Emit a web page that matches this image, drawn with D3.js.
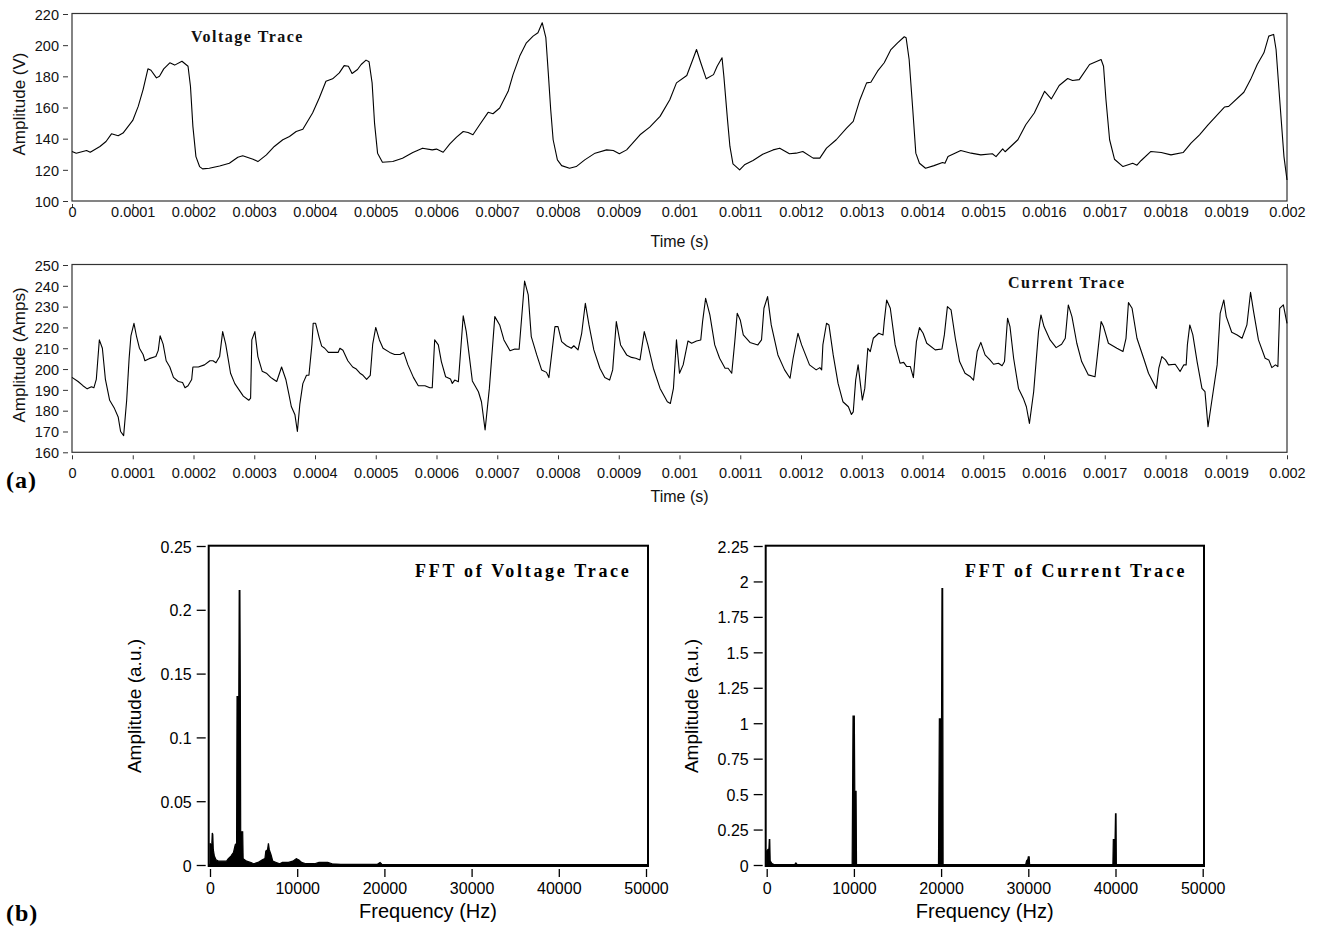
<!DOCTYPE html>
<html><head><meta charset="utf-8">
<script src="https://cdn.jsdelivr.net/npm/d3@7"></script>
<style>body{margin:0;background:#fff} svg{display:block}</style>
</head><body>
<svg id="c" width="1318" height="937"></svg>
<script>
// ---- data ----
// voltage trace: [time (µs), amplitude (V)]
const voltageTrace = [[0,131.8],[7,130.7],[24,132.4],[30,131.3],[46,135],[56,138.2],[65,143.1],[76,141.9],[84,143.6],[100,151.7],[109,160.7],[117,171.5],[125,184.8],[130,183.9],[139,179],[144,180.1],[151,184.8],[161,188.7],[169,187.2],[181,189.7],[191,186.5],[195,173.6],[199,147.9],[204,128.5],[210,122.1],[215,120.6],[226,121],[243,122.5],[259,124.2],[273,128.1],[281,129],[298,126.8],[306,125.3],[320,129.6],[333,135],[347,139.3],[358,141.4],[369,144.6],[380,146.1],[396,156.5],[407,166.1],[418,176.8],[429,178.4],[440,182.2],[448,186.9],[455,186.5],[461,181.8],[470,184.4],[476,187.6],[484,190.4],[489,189.3],[494,175.8],[498,150],[503,130.7],[511,124.9],[528,125.3],[544,127.5],[561,131.1],[577,133.9],[593,132.8],
[600,133.3],[611,131.3],[622,136.7],[633,141],[644,144.6],[652,144],[660,142.5],[671,148.9],[685,156.9],[693,156],[704,159.7],[718,170.4],[726,181.1],[737,193],[748,201.5],[759,205.8],[767,208],[774,214.4],[780,204.8],[784,182.2],[788,158.6],[792,139.3],[799,126.4],[806,122.7],[819,121],[830,122.1],[844,126.4],[861,130.7],[880,132.8],[891,132.4],[901,130.3],[913,132.8],[935,142.5],[951,147.4],[968,154.3],[984,165],[995,175.8],[1012,180.5],[1023,191.9],[1028,197.2],[1035,188.7],[1044,178.4],[1056,181.1],[1062,186.5],[1070,191.9],[1073,180.1],[1079,152.2],[1083,135],[1088,123.8],[1099,120],[1107,123.2],[1121,126],[1137,130],[1154,132.8],[1165,133.9],[1181,130.3],[1192,130.7],[1203,131.8],[1220,127.5],[1231,127.5],[1242,133.9],[1258,139.3],[1275,146.8],[1286,151.1],[1297,165],[1308,175.8],
[1315,176.2],[1326,183.3],[1337,188.7],[1348,197.2],[1359,201.5],[1370,205.4],[1373,204.8],[1378,190.8],[1384,158.6],[1389,130.7],[1395,124.2],[1405,121],[1419,122.7],[1433,124.7],[1437,124.2],[1442,128.5],[1463,132.4],[1480,130.7],[1496,129.6],[1515,130.3],[1521,128.5],[1532,133.5],[1536,131.6],[1557,139.3],[1570,148.9],[1584,156.5],[1601,170.4],[1612,165.5],[1625,174.1],[1639,178.6],[1647,177.3],[1658,177.9],[1675,187.6],[1694,190.8],[1698,186.5],[1702,165],[1708,139.3],[1716,126.8],[1730,122.1],[1746,124.2],[1753,123],[1760,126],[1776,131.8],[1793,131.1],[1809,129.6],[1829,131.1],[1842,137.1],[1856,142.5],[1870,148.9],[1897,160.3],[1904,160.7],[1929,169.8],[1940,177.9],[1951,187.6],[1962,195.1],[1970,205.8],[1978,206.9],[1982,197.2],[1988,165],[1995,128.5],[2000,113.5]];

// current trace: [time (µs), amplitude (Amps)]
const currentTrace = [[0,196],[10,194],[18,192],[25,190.5],[32,191.5],[36,191],[40,195],[45,214],[50,210],[55,195],[62,185],[70,181],[76,177],[80,170],[85,168],[90,185],[94,205],[97,216],[102,222],[106,216],[111,210],[117,207],[120,204],[127,205],[138,206],[142,209],[145,216],[150,212],[155,204],[161,201],[167,196],[175,194],[182,193.5],[186,191],[191,192],[197,195],[199,201],[208,201],[218,202],[227,204],[232,204],[237,203],[243,206],[248,218],[253,212],[261,198],[268,193],[275,190],[282,187],[291,185],[294,186],[296,214],[301,218],[306,206],[313,199],[320,198],[327,196],[332,195],[337,194],[345,201],[352,195],[357,188],[361,182],[367,178],[371,170],[375,183],[380,193],[386,197],[390,197],[395,212],[397,222],[401,222],[407,215],[411,211],[416,210],[422,208],[430,208],[438,208],[441,210],[446,209],[454,204],[462,201],[468,200],[474,198],[479,197],[485,195],[491,197],[495,212],[500,220],[506,214],[512,210],[523,208],[531,207],[540,207],[546,208],[553,202],[562,196],[570,192],[581,192],[589,191],[593,191],
[597,214],[603,211.6],[608,203.6],[615,196.3],[623,195.2],[626,193.1],[630,194.7],[636,193.9],[644,225.6],[649,218],[659,194.3],[669,189.1],[674,184.3],[680,170.7],[687,190.7],[696,225.2],[704,221.2],[711,214],[721,208.8],[729,209.6],[736,209.5],[745,242.3],[751,235.6],[756,215.6],[765,206.8],[773,199.6],[781,198.4],[785,195.9],[795,220.4],[800,220.4],[806,213.2],[814,211.2],[822,210],[826,211.2],[833,209.2],[839,217.2],[845,231.6],[851,221.2],[859,209.2],[869,200.4],[877,195.9],[885,194.7],[890,199.6],[896,222.8],[903,211.6],[913,206.8],[921,205.6],[928,205.2],[935,204.4],[942,218],[948,211.6],[957,200.4],[968,190.7],[980,184.3],[985,183.5],[990,190.7],[995,214],[1000,198],[1006,202],[1014,213.5],[1020,212.4],[1028,213.5],[1035,214],[1038,222.8],[1043,234],[1050,226],[1058,211.6],[1066,205.2],[1075,200.4],[1080,200.4],[1086,198],[1091,213.2],[1095,226.8],[1100,223.6],[1105,216.4],[1116,212.8],[1129,211.6],[1135,214],[1139,229.2],[1145,234.8],[1151,221.2],[1162,206.8],[1173,199.6],[1182,195.6],[1187,205.2],[1195,217.2],[1201,211.6],[1214,202],[1225,199.6],[1231,200.7],[1234,199.6],[1236,211.6],[1242,222],[1246,221.2],[1253,206.8],[1261,193.1],[1269,184.3],[1278,181.9],[1283,178.2],[1286,179.4],[1290,194.7],[1294,202],[1301,185.1],[1305,190.7],[1310,210],
[1314,208.4],[1319,214.8],[1328,217.2],[1335,216.4],[1337,222.8],[1341,233.2],[1347,229.2],[1355,211.6],[1363,202.8],[1369,203.2],[1374,201.2],[1380,201.2],[1385,195.9],[1390,213.2],[1395,219.9],[1401,217.2],[1407,212.4],[1421,209.2],[1432,209.6],[1436,216.4],[1441,230],[1447,228.4],[1454,214.8],[1461,203.6],[1470,198],[1479,196.3],[1484,194.7],[1490,208.4],[1496,212.8],[1503,206.8],[1511,204.4],[1517,202.3],[1525,202.8],[1531,201.6],[1535,203.6],[1540,224.4],[1544,220.4],[1550,205.2],[1558,190.7],[1566,185.9],[1571,181.9],[1576,173.9],[1583,189.1],[1591,218],[1595,226],[1600,220.4],[1610,214],[1620,210.3],[1629,211.9],[1635,214.8],[1640,230.8],[1646,225.2],[1654,212.4],[1662,203.6],[1673,197.2],[1684,196.3],[1688,206.8],[1694,222.8],[1698,220.4],[1706,212.4],[1720,210],[1730,208.4],[1735,214.8],[1739,231.9],[1745,229.2],[1753,214.8],[1764,205.2],[1772,198],[1785,190.7],[1789,200.4],[1794,206],[1800,204.4],[1805,202],[1816,202.3],[1824,198.8],[1830,202],[1834,202],[1836,211.6],[1840,221.2],[1845,216.4],[1852,203.6],[1860,190.7],[1865,189.1],[1870,172.3],[1876,184.3],[1885,202],[1890,226.8],[1896,233.2],[1900,225.2],[1909,217.7],[1918,216.4],[1926,214.8],[1934,221.2],[1940,236.9],[1945,227.6],[1953,214],[1964,205.2],[1970,204.4],[1975,200.7],[1981,202],[1985,201.2],[1988,229.2],[1994,230.8],[2000,222]];

// FFT spectra: [frequency (Hz), amplitude (a.u.)]
const fftVoltage = [[0,0.017],[80,0.016],[200,0.015],[260,0.025],[320,0.024],[380,0.012],[500,0.007],[700,0.004],[1000,0.003],[1400,0.003],[1900,0.003],[2100,0.005],[2400,0.007],[2700,0.01],[2900,0.016],[3050,0.017],[3100,0.132],[3300,0.132],[3350,0.215],[3430,0.215],[3480,0.132],[3520,0.026],[3750,0.026],[3800,0.005],[4200,0.003],[4700,0.002],[5000,0.001],[5500,0.002],[6000,0.004],[6300,0.005],[6400,0.011],[6600,0.012],[6700,0.017],[6800,0.012],[7000,0.008],[7200,0.003],[7600,0.002],[8000,0.001],[8300,0.002],[9000,0.002],[9500,0.003],[9900,0.005],[10200,0.004],[10500,0.002],[11000,0.001],[12000,0.001],[12500,0.002],[13000,0.002],[13500,0.002],[14000,0.001],[15000,0.0006],[19200,0.0006],[19500,0.002],[19700,0.0006],[30000,0.0004],[50000,0.0004]];
const fftCurrent = [[0,0.1],[150,0.11],[250,0.11],[300,0.18],[350,0.18],[400,0.03],[600,0.01],[800,0.005],[1500,0.003],[3200,0.003],[3350,0.015],[3500,0.003],[9800,0.003],[9900,1.05],[10050,1.05],[10100,0.52],[10250,0.52],[10300,0.003],[19700,0.003],[19800,1.03],[20050,1.03],[20100,1.95],[20180,1.95],[20230,0.003],[29700,0.003],[29800,0.03],[29950,0.04],[30000,0.058],[30100,0.058],[30150,0.003],[39700,0.003],[39750,0.18],[39950,0.18],[40000,0.36],[40060,0.36],[40100,0.003],[50000,0.003]];

// ticks
const timeTicks = d3.range(0, 2001, 100); // µs
const timeTickLabels = ["0","0.0001","0.0002","0.0003","0.0004","0.0005","0.0006","0.0007","0.0008","0.0009","0.001","0.0011","0.0012","0.0013","0.0014","0.0015","0.0016","0.0017","0.0018","0.0019","0.002"];
const voltageTicks = [100,120,140,160,180,200,220];
const currentTicks = [160,170,180,190,200,210,220,230,240,250];
const freqTicks = [0,10000,20000,30000,40000,50000];
const fftVoltageTicks = [0,0.05,0.1,0.15,0.2,0.25];
const fftVoltageTickLabels = ["0","0.05","0.1","0.15","0.2","0.25"];
const fftCurrentTicks = [0,0.25,0.5,0.75,1,1.25,1.5,1.75,2,2.25];
const fftCurrentTickLabels = ["0","0.25","0.5","0.75","1","1.25","1.5","1.75","2","2.25"];

// ---- drawing ----
const svg = d3.select("#c");
const SANS = "'Liberation Sans', Arial, sans-serif";
const SERIF = "'Liberation Serif', 'Times New Roman', serif";

function timePanel(o) {
  const x = d3.scaleLinear().domain([0, 2000]).range([72, 1287]);
  const y = d3.scaleLinear().domain(o.yDomain).range([o.bottom, o.top]);
  const g = svg.append("g");
  g.append("rect").attr("x", 72).attr("y", o.top - 0.5).attr("width", 1215).attr("height", o.bottom - o.top + 0.5)
    .attr("fill", "none").attr("stroke", "#333").attr("stroke-width", 1.2);
  const line = d3.line().x(d => x(d[0])).y(d => y(d[1]));
  g.append("path").datum(o.data).attr("d", line).attr("fill", "none").attr("stroke", "#000").attr("stroke-width", 1.1).attr("stroke-linejoin", "round");
  const xa = g.append("g").attr("transform", `translate(0,${o.bottom + 3})`)
    .call(d3.axisBottom(x).tickValues(timeTicks).tickSize(4).tickFormat((d, i) => timeTickLabels[i]));
  xa.select(".domain").remove();
  xa.selectAll("line").attr("stroke", "#333");
  xa.selectAll("text").attr("y", o.xLabelOffset).attr("dy", 0).attr("font-family", SANS).attr("font-size", 14.5).attr("fill", "#111");
  const ya = g.append("g").attr("transform", `translate(68,0)`)
    .call(d3.axisLeft(y).tickValues(o.yTicks).tickSize(5).tickPadding(4).tickFormat(d3.format("d")));
  ya.select(".domain").remove();
  ya.selectAll("line").attr("stroke", "#333");
  ya.selectAll("text").attr("font-family", SANS).attr("font-size", 14.5).attr("fill", "#111").attr("dy", "0.36em");
  g.append("text").attr("x", 679.5).attr("y", o.xTitleY).attr("text-anchor", "middle")
    .attr("font-family", SANS).attr("font-size", 16).attr("fill", "#111").text("Time (s)");
  g.append("text").attr("transform", `translate(25,${o.yTitleY}) rotate(-90)`).attr("text-anchor", "middle")
    .attr("font-family", SANS).attr("font-size", 17).attr("fill", "#111").text(o.yTitle);
  g.append("text").attr("x", o.labelX).attr("y", o.labelY).attr("font-family", SERIF).attr("font-weight", "bold")
    .attr("font-size", 16).attr("letter-spacing", 1.5).attr("fill", "#111").text(o.label);
}

timePanel({data: voltageTrace, yDomain: [100, 220], yTicks: voltageTicks, top: 14, bottom: 201,
  xLabelOffset: 13, xTitleY: 247, yTitle: "Amplitude (V)", yTitleY: 104,
  label: "Voltage Trace", labelX: 191, labelY: 42});
timePanel({data: currentTrace, yDomain: [160, 250], yTicks: currentTicks, top: 265, bottom: 452.3,
  xLabelOffset: 23, xTitleY: 501.5, yTitle: "Amplitude (Amps)", yTitleY: 355,
  label: "Current Trace", labelX: 1008, labelY: 288});

function fftPanel(o) {
  const x = d3.scaleLinear().domain([0, 50000]).range([o.x0, o.x1]);
  const y = d3.scaleLinear().domain(o.yDomain).range([865, 546]);
  const g = svg.append("g");
  const area = d3.area().x(d => x(d[0])).y0(y(0)).y1(d => y(d[1]));
  g.append("path").datum(o.data).attr("d", area).attr("fill", "#000").attr("stroke", "#000").attr("stroke-width", 1.2).attr("stroke-linejoin", "miter");
  g.append("rect").attr("x", o.fx0).attr("y", 545.7).attr("width", o.fx1 - o.fx0).attr("height", 866 - 545.7)
    .attr("fill", "none").attr("stroke", "#000").attr("stroke-width", 2);
  g.append("line").attr("x1", o.fx0).attr("x2", o.fx1).attr("y1", 865.5).attr("y2", 865.5).attr("stroke", "#000").attr("stroke-width", 3);
  const xa = g.append("g").attr("transform", `translate(0,869)`)
    .call(d3.axisBottom(x).tickValues(freqTicks).tickSize(8).tickFormat(d3.format("d")));
  xa.select(".domain").remove();
  xa.selectAll("line").attr("stroke", "#000").attr("stroke-width", 1.3);
  xa.selectAll("text").attr("y", 25).attr("dy", 0).attr("font-family", SANS).attr("font-size", 16).attr("fill", "#000");
  const ya = g.append("g").attr("transform", `translate(${o.fx0 - 3},0)`)
    .call(d3.axisLeft(y).tickValues(o.yTicks).tickSize(9).tickPadding(5).tickFormat((d, i) => o.yTickLabels[i]));
  ya.select(".domain").remove();
  ya.selectAll("line").attr("stroke", "#000").attr("stroke-width", 1.3);
  ya.selectAll("text").attr("font-family", SANS).attr("font-size", 16).attr("fill", "#000").attr("dy", "0.38em");
  g.append("text").attr("x", (o.x0 + o.x1) / 2).attr("y", 918).attr("text-anchor", "middle")
    .attr("font-family", SANS).attr("font-size", 20).attr("fill", "#000").text("Frequency (Hz)");
  g.append("text").attr("transform", `translate(${o.yTitleX},706) rotate(-90)`).attr("text-anchor", "middle")
    .attr("font-family", SANS).attr("font-size", 19).attr("fill", "#000").text("Amplitude (a.u.)");
  g.append("text").attr("x", o.labelX).attr("y", 577).attr("font-family", SERIF).attr("font-weight", "bold")
    .attr("font-size", 18).attr("letter-spacing", 2.7).attr("fill", "#000").text(o.label);
}

fftPanel({data: fftVoltage, yDomain: [0, 0.25], yTicks: fftVoltageTicks, yTickLabels: fftVoltageTickLabels,
  x0: 210, x1: 646, fx0: 208.7, fx1: 648, yTitleX: 141, label: "FFT of Voltage Trace", labelX: 415});
fftPanel({data: fftCurrent, yDomain: [0, 2.25], yTicks: fftCurrentTicks, yTickLabels: fftCurrentTickLabels,
  x0: 766.7, x1: 1202.7, fx0: 765.7, fx1: 1204, yTitleX: 698, label: "FFT of Current Trace", labelX: 965});

svg.append("text").attr("x", 6).attr("y", 488).attr("font-family", SERIF).attr("font-weight", "bold")
  .attr("font-size", 24).attr("letter-spacing", 1).attr("fill", "#000").text("(a)");
svg.append("text").attr("x", 6).attr("y", 921).attr("font-family", SERIF).attr("font-weight", "bold")
  .attr("font-size", 24).attr("letter-spacing", 1).attr("fill", "#000").text("(b)");
</script>
</body></html>
